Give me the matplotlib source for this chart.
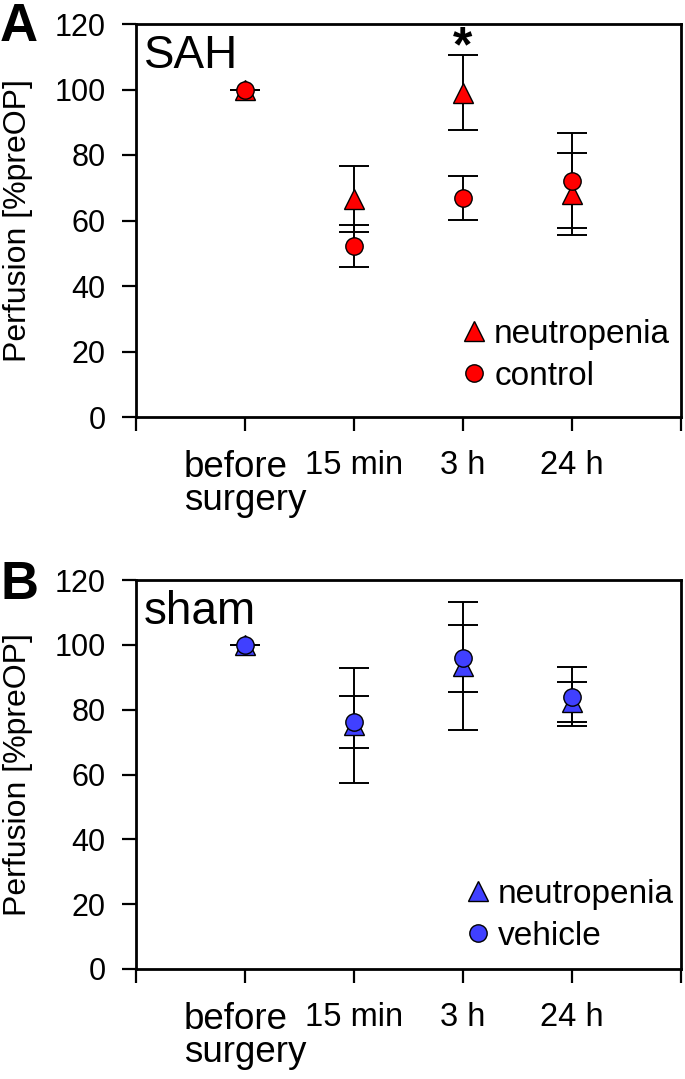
import matplotlib
matplotlib.use("Agg")
import matplotlib.pyplot as plt
from matplotlib.lines import Line2D

plt.rcParams['font.family'] = ['Liberation Sans', 'DejaVu Sans']

timepoints = ["before\nsurgery", "15 min", "3 h", "24 h"]

# Panel A (SAH)
sah_neutro_mean = [100, 66.5, 99, 68]
sah_neutro_err = [0, 10, 11.4, 12.5]
sah_ctrl_mean = [100, 52.2, 67, 72.2]
sah_ctrl_err = [0, 6.4, 6.7, 14.4]

# Panel B (sham)
sham_neutro_mean = [100, 75.2, 93.4, 82.4]
sham_neutro_err = [0, 17.7, 19.8, 6.2]
sham_veh_mean = [100, 76.2, 95.8, 84.0]
sham_veh_err = [0, 8.1, 10.4, 9.1]

RED = '#FF0000'
BLUE = '#4040FF'

W, H = 685, 1079
fig = plt.figure(figsize=(W / 100, H / 100), dpi=100)

def make_axes(top_px, bottom_px):
    left_px, right_px = 136, 681
    return fig.add_axes([left_px / W, 1 - bottom_px / H,
                         (right_px - left_px) / W, (bottom_px - top_px) / H])

axA = make_axes(24, 417)
axB = make_axes(580, 969)

def draw_panel(ax, m1, e1, m2, e2, color, lab1, lab2, title, leg_anchor):
    x = list(range(len(timepoints)))
    ax.errorbar(x, m1, yerr=e1, fmt='none', ecolor='black', elinewidth=1.4,
                capsize=11, capthick=1.4, zorder=2)
    ax.errorbar(x, m2, yerr=e2, fmt='none', ecolor='black', elinewidth=1.4,
                capsize=11, capthick=1.4, zorder=2)
    ax.plot(x, m1, linestyle='none', marker='^', markersize=14,
            markerfacecolor=color, markeredgecolor='black', markeredgewidth=1.0, zorder=3)
    ax.plot(x, m2, linestyle='none', marker='o', markersize=12.5,
            markerfacecolor=color, markeredgecolor='black', markeredgewidth=1.0, zorder=4)
    ax.set_xlim(-1, 4)
    ax.set_ylim(0, 120)
    ax.set_yticks(range(0, 121, 20))
    ax.set_xticks([-1, 0, 1, 2, 3, 4])
    ax.set_xticklabels([''] + timepoints + [''])
    for sp in ax.spines.values():
        sp.set_linewidth(2.0)
    ax.tick_params(axis='y', direction='out', length=10, width=1.6, pad=12,
                   labelsize=22, right=False)
    ax.tick_params(axis='x', direction='out', length=10, width=1.6, pad=14,
                   labelsize=23.5, top=False)
    lbl = ax.get_xticklabels()[1]
    lbl.set_fontsize(26.5)
    lbl.set_linespacing(0.9)
    lbl.set_multialignment('left')
    ax.set_ylabel('Perfusion [%preOP]', fontsize=23, labelpad=15)
    ax.text(0.015, 0.975, title, transform=ax.transAxes, fontsize=33,
            ha='left', va='top')
    handles = [
        Line2D([], [], linestyle='none', marker='^', markersize=14,
               markerfacecolor=color, markeredgecolor='black', markeredgewidth=1.0),
        Line2D([], [], linestyle='none', marker='o', markersize=12.5,
               markerfacecolor=color, markeredgecolor='black', markeredgewidth=1.0),
    ]
    ax.legend(handles, [lab1, lab2], loc='upper left', bbox_to_anchor=leg_anchor,
              frameon=False, fontsize=24, borderpad=0, borderaxespad=0,
              handlelength=0.9, handletextpad=0.15, labelspacing=0.33)

draw_panel(axA, sah_neutro_mean, sah_neutro_err, sah_ctrl_mean, sah_ctrl_err,
           RED, 'neutropenia', 'control', 'SAH', (0.593, 0.25))
draw_panel(axB, sham_neutro_mean, sham_neutro_err, sham_veh_mean, sham_veh_err,
           BLUE, 'neutropenia', 'vehicle', 'sham', (0.600, 0.231))

# significance marker above 3 h in panel A
axA.annotate('*', xy=(2, sah_neutro_mean[2] + sah_neutro_err[2]), xytext=(0, -4.5),
             textcoords='offset points', ha='center', va='baseline',
             fontsize=36, fontweight='bold')

fig.text(0 / W, 1 - 2 / H, 'A', fontsize=38, fontweight='bold', ha='left', va='top')
fig.text(0 / W, 1 - 560 / H, 'B', fontsize=38, fontweight='bold', ha='left', va='top')

fig.savefig('out.png', dpi=100)
